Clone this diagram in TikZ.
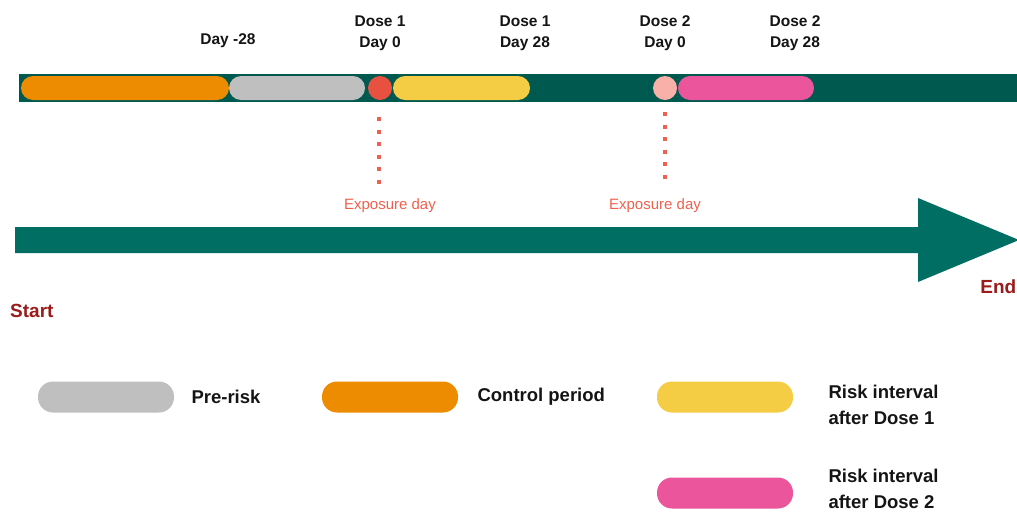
\documentclass[tikz,border=0pt]{standalone}
\usepackage{fontspec}
\setmainfont{Liberation Sans}
\begin{document}
\begin{tikzpicture}[x=1pt,y=-1pt,
  pill/.style={rounded corners=12pt, minimum height=24pt, inner sep=0pt},
  lpill/.style={rounded corners=15pt, minimum height=31pt, minimum width=136pt, inner sep=0pt},
  dot/.style={circle, minimum size=24pt, inner sep=0pt},
  hdr/.style={font=\fontsize{15.5}{21}\selectfont\bfseries, align=center, text=black!92},
  leg/.style={font=\fontsize{18.5}{26}\selectfont\bfseries, align=left, anchor=west, text=black!92},
  expo/.style={font=\fontsize{15}{18}\selectfont, text=expored},
  se/.style={font=\fontsize{19}{22}\selectfont\bfseries, text=darkred},
  dotline/.style={draw=expored, line width=4pt, dash pattern=on 4pt off 8.5pt}
]
\definecolor{bargreen}{HTML}{00594F}
\definecolor{arrowgreen}{HTML}{006E63}
\definecolor{corange}{HTML}{EE8C00}
\definecolor{cgray}{HTML}{BFBFBF}
\definecolor{cred}{HTML}{E85040}
\definecolor{cyellow}{HTML}{F5CD45}
\definecolor{clpink}{HTML}{F8B0A8}
\definecolor{cpink}{HTML}{EA559C}
\definecolor{expored}{HTML}{F0604E}
\definecolor{darkred}{HTML}{9B1B1B}
\useasboundingbox (0,0) rectangle (1017,512);

% top bar
\fill[bargreen] (19,74) rectangle (1017,102);
\node[pill, fill=corange, minimum width=208pt] (ctrl) at (125,88) {};
\node[pill, fill=cgray, minimum width=136pt] (prerisk) at (297,88) {};
\node[dot, fill=cred] (d1) at (380,88) {};
\node[pill, fill=cyellow, minimum width=137pt] (risk1) at (461.5,88) {};
\node[dot, fill=clpink] (d2) at (665,88) {};
\node[pill, fill=cpink, minimum width=136pt] (risk2) at (746,88) {};

% header labels
\node[hdr] (h1) at (228,41) {Day -28};
\node[hdr] (h2) at (380,33) {Dose 1\\Day 0};
\node[hdr] (h3) at (525,33) {Dose 1\\Day 28};
\node[hdr] (h4) at (665,33) {Dose 2\\Day 0};
\node[hdr] (h5) at (795,33) {Dose 2\\Day 28};

% dotted exposure lines
\coordinate (e1a) at (379,117);
\coordinate (e1b) at (379,187);
\coordinate (e2a) at (665,112);
\coordinate (e2b) at (665,182);
\draw[dotline] (e1a) -- (e1b);
\draw[dotline] (e2a) -- (e2b);
\node[expo] (x1) at (390,206) {Exposure day};
\node[expo] (x2) at (655,206) {Exposure day};

% big arrow
\fill[arrowgreen] (15,227) -- (918,227) -- (918,198) -- (1019,240) -- (918,282) -- (918,253) -- (15,253) -- cycle;
\node[se, anchor=west, inner sep=0pt] (start) at (10,311) {Start};
\node[se, anchor=east, inner sep=0pt] (end) at (1016.5,287) {End};

% legend
\node[lpill, fill=cgray] (lg1) at (106,397) {};
\node[leg] (lt1) at (188,397) {Pre-risk};
\node[lpill, fill=corange] (lg2) at (390,397) {};
\node[leg] (lt2) at (474,397) {Control period};
\node[lpill, fill=cyellow] (lg3) at (725,397) {};
\node[leg] (lt3) at (825,405) {Risk interval\\after Dose 1};
\node[lpill, fill=cpink] (lg4) at (725,493) {};
\node[leg] (lt4) at (825,489) {Risk interval\\after Dose 2};
\end{tikzpicture}
\end{document}
